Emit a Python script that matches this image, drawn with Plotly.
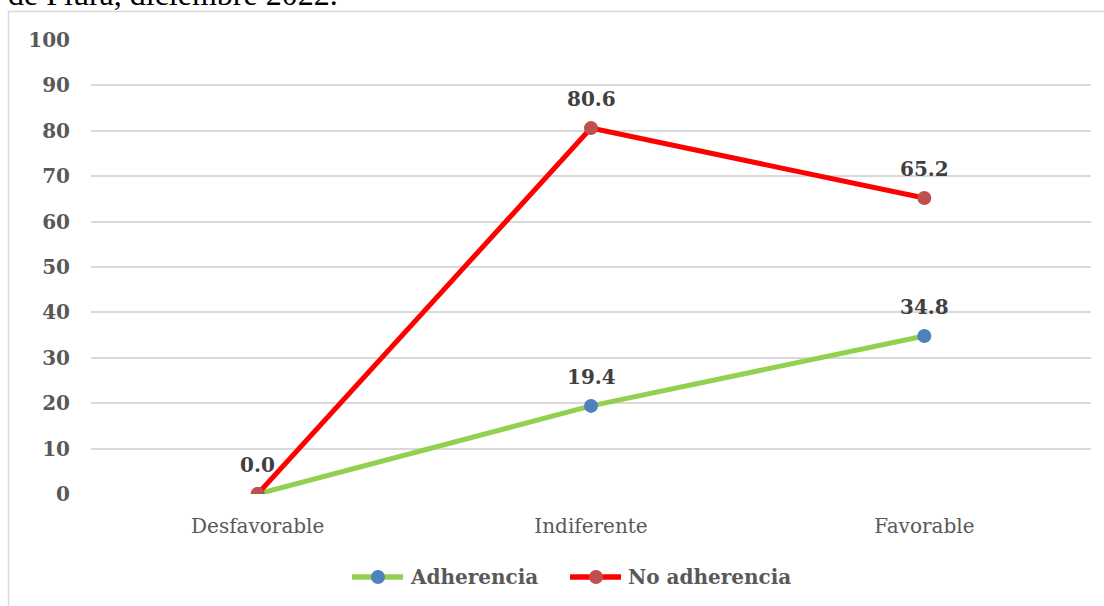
import plotly.graph_objects as go

categories = ["Desfavorable", "Indiferente", "Favorable"]
adherencia = [0.0, 19.4, 34.8]
no_adherencia = [0.0, 80.6, 65.2]
y_ticks = [0, 10, 20, 30, 40, 50, 60, 70, 80, 90, 100]

SERIF = "DejaVu Serif"
LABEL_COLOR = "#404040"
TICK_COLOR = "#595959"

SERIES = [
    dict(name="Adherencia", values=adherencia, line="#92D050", marker="#4F81BD"),
    dict(name="No adherencia", values=no_adherencia, line="#FF0000", marker="#C0504D"),
]

# plot-area pixel geometry used to place paper-referenced extras
PLOT_L, PLOT_R, PLOT_T, PLOT_B = 91, 1091, 40, 494
PW, PH = PLOT_R - PLOT_L, PLOT_B - PLOT_T


def px_x(px):
    return (px - PLOT_L) / PW


def px_y(py):
    return (PLOT_B - py) / PH


fig = go.Figure()

for s in SERIES:
    fig.add_trace(go.Scatter(
        x=categories, y=s["values"], name=s["name"],
        mode="lines+markers",
        line=dict(color=s["line"], width=5),
        marker=dict(color=s["marker"], size=14),
        showlegend=False,
    ))

# value labels above each point (the shared zero point is labelled once)
seen = set()
for s in SERIES:
    for c, v in zip(categories, s["values"]):
        if (c, v) in seen:
            continue
        seen.add((c, v))
        fig.add_annotation(
            x=c, y=v, text=f"<b>{v:.1f}</b>", showarrow=False,
            yanchor="bottom", yshift=15,
            font=dict(family=SERIF, size=20, color=LABEL_COLOR),
        )

# legend row below the axis: line swatch with a centred dot, then the name
LEG_Y = 577
for s, x0 in zip(SERIES, (350, 568)):
    fig.add_shape(
        type="line", xref="paper", yref="paper",
        x0=px_x(x0 + 2), x1=px_x(x0 + 53), y0=px_y(LEG_Y), y1=px_y(LEG_Y),
        line=dict(color=s["line"], width=5.5),
    )
    cx = x0 + 28
    fig.add_shape(
        type="circle", xref="paper", yref="paper",
        x0=px_x(cx - 7), x1=px_x(cx + 7), y0=px_y(LEG_Y + 7), y1=px_y(LEG_Y - 7),
        line=dict(width=0), fillcolor=s["marker"],
    )
    fig.add_annotation(
        xref="paper", yref="paper", x=px_x(x0 + 58), y=px_y(LEG_Y),
        xanchor="left", yanchor="middle", showarrow=False,
        text=f"<b>{s['name']}</b>",
        font=dict(family=SERIF, size=20, color=TICK_COLOR),
    )

# caption line running above the chart frame
fig.add_annotation(
    xref="paper", yref="paper", x=px_x(6), y=px_y(14),
    xanchor="left", yanchor="bottom",
    text="de Piura, diciembre 2022.", showarrow=False,
    font=dict(family="Liberation Serif", size=32, color="#000000"),
)

# chart frame
fig.add_shape(
    type="rect", xref="paper", yref="paper",
    x0=px_x(8.5), x1=px_x(1110), y0=px_y(620), y1=px_y(11.5),
    line=dict(color="#D9D9D9", width=1.5), fillcolor="rgba(0,0,0,0)",
    layer="below",
)

fig.update_layout(
    width=1104, height=606,
    margin=dict(l=PLOT_L, r=1104 - PLOT_R, t=PLOT_T, b=606 - PLOT_B,
                autoexpand=False),
    paper_bgcolor="white", plot_bgcolor="white",
    showlegend=False,
    xaxis=dict(
        type="category", range=[-0.5, 2.5], showgrid=False, zeroline=False,
        showline=False, ticks="", automargin=False,
        ticklabelstandoff=18,
        tickfont=dict(family=SERIF, size=20, color=TICK_COLOR),
    ),
    yaxis=dict(
        range=[0, 100], tickvals=y_ticks, ticktext=[str(v) for v in y_ticks],
        showgrid=True, gridcolor="#D9D9D9", gridwidth=1.5,
        zeroline=False, showline=False, ticks="", automargin=False,
        ticklabelstandoff=20,
        tickfont=dict(family=SERIF, size=20, color=TICK_COLOR, weight="bold"),
    ),
)

fig.write_html("out.html")
